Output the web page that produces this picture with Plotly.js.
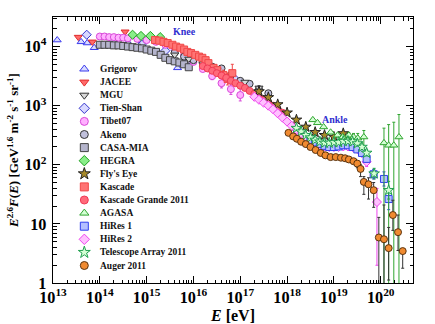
<!DOCTYPE html>
<html><head><meta charset="utf-8">
<script src="https://cdn.plot.ly/plotly-3.0.1.min.js"></script>
<style>html,body{margin:0;padding:0;background:#fff}#chart{width:435px;height:324px}</style>
</head><body><div id="chart"></div>
<script>
// All values are log10(E/eV) and log10(E^2.6 F(E))
const seriesNames = ['Grigorov','JACEE','MGU','Tien-Shan','Tibet07','Akeno','CASA-MIA','HEGRA',"Fly's Eye",'Kascade','Kascade Grande 2011','AGASA','HiRes 1','HiRes 2','Telescope Array 2011','Auger 2011'];

const grigorovLogE = [13.09,13.6,13.73,13.88,14.6,14.9,15.66];
const grigorovLogF = [4.11,4.08,4.06,3.98,4.07,4.1,3.64];

const jaceeLogE = [13.54,13.84,14.54];
const jaceeLogF = [4.16,4.08,4.25];

const mguLogE = [15.6,15.9,16.2,16.5,16.8,17.1,17.4];
const mguLogF = [3.86,3.79,3.71,3.6,3.5,3.4,3.3];

const tienShanLogE = [13.72,14.3,14.9,15.4,15.9,16.4,16.9];
const tienShanLogF = [4.2,4.1,4.03,3.93,3.78,3.6,3.44];

const tibetLogE = [14.0,14.1,14.2,14.3,14.4,14.5,14.6,14.8,15.0,15.2,15.4,15.6,15.8,16.0,16.2,16.4,16.6,16.8,17.0];
const tibetLogF = [4.17,4.17,4.16,4.16,4.15,4.15,4.14,4.13,4.11,4.08,4.03,3.95,3.85,3.74,3.62,3.5,3.38,3.28,3.18];
const tibetErr  = [0,0,0,0,0,0,0,0,0,0,0,0,0,0,0.03,0.06,0.08,0.09,0.1];

const akenoLogE = [15.6,15.8,16.0,16.2,16.4,16.6,16.8,17.0,17.2,17.4,17.6];
const akenoLogF = [3.9,3.83,3.77,3.71,3.66,3.63,3.52,3.42,3.37,3.28,3.21];

const casaLogE = [14.0,14.1,14.2,14.3,14.4,14.5,14.6,14.7,14.8,14.9,15.0,15.1,15.2,15.3,15.4,15.5,15.6,15.7,15.8,15.9];
const casaLogF = [4.03,4.03,4.03,4.02,4.02,4.01,4.0,3.99,3.98,3.97,3.95,3.93,3.91,3.86,3.81,3.77,3.75,3.73,3.7,3.65];

const hegraLogE = [14.7,14.88,15.08,15.29];
const hegraLogF = [4.2,4.18,4.18,4.16];

const flysEyeLogE = [17.4,17.6,17.8,18.0,18.2,18.4,18.6,18.8,19.0,19.2,19.4];
const flysEyeLogF = [3.24,3.14,3.02,2.88,2.76,2.64,2.55,2.5,2.47,2.53,2.42];

const kascadeLogE = [15.18,15.27,15.36,15.45,15.55,15.63,15.72,15.8,15.87,15.95,16.04,16.12,16.19,16.26,16.32,16.43,16.51,16.64,16.73,16.83];
const kascadeLogF = [4.11,4.1,4.08,4.06,4.03,4.0,3.98,3.95,3.91,3.89,3.86,3.83,3.81,3.77,3.72,3.64,3.6,3.52,3.45,3.55];
const kascadeErr  = [0,0,0,0,0,0,0,0,0,0,0,0,0,0,0,0.04,0.05,0.08,0.1,0.15];

const kgLogE = [16.2,16.3,16.4,16.5,16.6,16.7,16.8,16.9,17.0,17.1,17.2,17.3,17.4,17.5,17.6,17.7,17.8,17.9];
const kgLogF = [3.67,3.63,3.59,3.55,3.51,3.47,3.42,3.38,3.34,3.3,3.25,3.2,3.15,3.1,3.05,3.0,2.94,2.88];

const agasaLogE = [18.55,18.65,18.78,18.93,19.08,19.19,19.32,19.42,19.51,19.64,20.07,20.17,20.28,20.39];
const agasaLogF = [2.76,2.71,2.64,2.55,2.5,2.47,2.5,2.47,2.45,2.47,2.37,2.33,2.33,2.47];
const agasaLogTop = [2.78,2.73,2.66,2.57,2.53,2.5,2.54,2.53,2.53,2.58,2.62,2.68,2.72,2.85];
const agasaLogBot = [2.74,2.69,2.62,2.53,2.47,2.43,2.45,2.4,2.35,2.3,-0.5,-0.5,-0.5,-0.5];

const hires1LogE = [18.5,18.6,18.7,18.8,18.9,19.0,19.1,19.2,19.3,19.4,19.5,19.6,19.7,19.85,20.07,20.17];
const hires1LogF = [2.42,2.38,2.35,2.32,2.3,2.3,2.31,2.33,2.33,2.3,2.26,2.2,2.1,1.84,1.76,1.42];
const hires1Err  = [0,0,0,0,0,0,0,0.01,0.02,0.02,0.03,0.04,0.05,0.08,0.12,0.18];

const hires2LogE = [17.3,17.4,17.5,17.6,17.7,17.8,17.9,18.0,18.1,18.2,18.3,18.4,18.5,18.6,18.7,18.8,18.9,19.0,19.1,19.2,19.3,19.4,19.5,19.6,19.7,19.92];
const hires2LogF = [3.15,3.1,3.05,3.0,2.94,2.87,2.8,2.73,2.66,2.59,2.52,2.46,2.41,2.37,2.33,2.31,2.3,2.3,2.3,2.31,2.31,2.3,2.27,2.2,2.05,1.37];
const hires2LogTop = [3.15,3.1,3.05,3.0,2.94,2.87,2.8,2.73,2.66,2.59,2.52,2.46,2.41,2.37,2.33,2.31,2.3,2.3,2.31,2.33,2.34,2.34,2.32,2.26,2.12,1.6];
const hires2LogBot = [3.15,3.1,3.05,3.0,2.94,2.87,2.8,2.73,2.66,2.59,2.52,2.46,2.41,2.37,2.33,2.31,2.3,2.3,2.29,2.29,2.28,2.26,2.22,2.14,1.97,0.3];

const taLogE = [18.2,18.3,18.4,18.5,18.6,18.7,18.8,18.9,19.0,19.1,19.2,19.3,19.4,19.5,19.6,19.7,19.86,20.17];
const taLogF = [2.62,2.56,2.5,2.46,2.42,2.39,2.37,2.37,2.38,2.38,2.4,2.4,2.39,2.36,2.3,2.2,1.85,1.57];
const taErr  = [0,0,0,0,0,0,0,0,0.01,0.01,0.02,0.02,0.03,0.03,0.04,0.05,0.09,0.15];

const augerLogE = [18.03,18.13,18.21,18.3,18.4,18.5,18.61,18.72,18.82,18.93,19.04,19.15,19.24,19.32,19.42,19.5,19.57,19.64,19.74,19.85,19.96,20.07,20.17,20.26,20.37,20.47];
const augerLogF = [2.54,2.48,2.44,2.39,2.35,2.3,2.25,2.2,2.16,2.13,2.13,2.12,2.11,2.09,2.06,2.02,1.93,1.71,1.67,1.57,0.77,0.74,0.59,1.15,0.86,0.54];
const augerLogTop = [2.55,2.49,2.45,2.4,2.36,2.31,2.26,2.21,2.17,2.14,2.14,2.14,2.13,2.12,2.1,2.07,2.0,1.8,1.78,1.7,1.11,1.32,0.94,1.4,1.15,0.54];
const augerLogBot = [2.53,2.47,2.43,2.38,2.34,2.29,2.24,2.19,2.15,2.12,2.12,2.1,2.09,2.06,2.02,1.95,1.8,1.5,1.42,1.28,-0.5,-0.5,0.05,0.89,0.55,0.25];

const knee = {logE: 15.8, logF: 4.25, text: 'Knee'};
const ankle = {logE: 19.02, logF: 2.77, text: 'Ankle'};

const styles = [
  {symbol:'triangle-up',   fill:'rgba(190,195,255,0.6)', line:'#3a3aee'},
  {symbol:'triangle-down', fill:'#ff6a6a', line:'#e02a2a'},
  {symbol:'triangle-down', fill:'#d8d8d8', line:'#333333'},
  {symbol:'diamond',       fill:'#d8d8ff', line:'#3535cc'},
  {symbol:'circle',        fill:'#ffb0ff', line:'#d848d8'},
  {symbol:'circle',        fill:'#c0c0dc', line:'#333333'},
  {symbol:'square',        fill:'#b4b4cc', line:'#444444'},
  {symbol:'diamond',       fill:'#88ee88', line:'#20a020'},
  {symbol:'star',          fill:'#a88a28', line:'#222222'},
  {symbol:'square',        fill:'#ff7474', line:'#f04848'},
  {symbol:'circle',        fill:'#ff6a7a', line:'#f03a55'},
  {symbol:'triangle-up',   fill:'#d4ffd4', line:'#30a530'},
  {symbol:'square',        fill:'#b4c0ff', line:'#3040ee'},
  {symbol:'diamond',       fill:'#ffc0ff', line:'#ee44ee'},
  {symbol:'star',          fill:'#d4ffd4', line:'#20a050'},
  {symbol:'circle',        fill:'#f08a30', line:'#5a3410'}
];
const errColors = ['#3a3aee','#e02a2a','#333','#3535cc','#d848d8','#333','#444','#20a020','#222','#f04848','#f03a55','#30a530','#3040ee','#ee44ee','#20a050','#333'];

const pw = v => Math.pow(10, v);
function symErr(F, e){ return F.map((f,i)=> pw(f+e[i]) - pw(f)); }
function symErrM(F, e){ return F.map((f,i)=> pw(f) - pw(f-e[i])); }
function topErr(F, t){ return F.map((f,i)=> pw(t[i]) - pw(f)); }
function botErr(F, b){ return F.map((f,i)=> pw(f) - pw(b[i])); }

const data = [
  {E:grigorovLogE, F:grigorovLogF},
  {E:jaceeLogE, F:jaceeLogF},
  {E:mguLogE, F:mguLogF},
  {E:tienShanLogE, F:tienShanLogF},
  {E:tibetLogE, F:tibetLogF, up:symErr(tibetLogF,tibetErr), dn:symErrM(tibetLogF,tibetErr)},
  {E:akenoLogE, F:akenoLogF},
  {E:casaLogE, F:casaLogF},
  {E:hegraLogE, F:hegraLogF},
  {E:flysEyeLogE, F:flysEyeLogF},
  {E:kascadeLogE, F:kascadeLogF, up:symErr(kascadeLogF,kascadeErr), dn:symErrM(kascadeLogF,kascadeErr)},
  {E:kgLogE, F:kgLogF},
  {E:agasaLogE, F:agasaLogF, up:topErr(agasaLogF,agasaLogTop), dn:botErr(agasaLogF,agasaLogBot)},
  {E:hires1LogE, F:hires1LogF, up:symErr(hires1LogF,hires1Err), dn:symErrM(hires1LogF,hires1Err)},
  {E:hires2LogE, F:hires2LogF, up:topErr(hires2LogF,hires2LogTop), dn:botErr(hires2LogF,hires2LogBot)},
  {E:taLogE, F:taLogF, up:symErr(taLogF,taErr), dn:symErrM(taLogF,taErr)},
  {E:augerLogE, F:augerLogF, up:topErr(augerLogF,augerLogTop), dn:botErr(augerLogF,augerLogBot)}
];

const drawOrder = [0,1,3,6,4,5,2,7,9,10,8,13,12,11,14,15];
const traces = [];
drawOrder.forEach(i => {
  const d = data[i], s = styles[i];
  const t = {
    type:'scatter', mode:'markers', name:seriesNames[i], showlegend:false,
    x: d.E.map(pw), y: d.F.map(pw), cliponaxis:false,
    marker:{symbol:s.symbol, size: (s.symbol==='star'?8:7), color:s.fill, line:{color:s.line, width:1}}
  };
  if (d.up) {
    t.error_y = {type:'data', symmetric:false, array:d.up, arrayminus:d.dn, color:errColors[i], thickness:1, width:1.5};
  }
  traces.push(t);
});

// custom legend (markers on a hidden paper-like axis pair)
const legX = 0.087, legTextX = 0.125, legTop = 69, legStep = 13.1;
const plotTop = 17, plotH = 266;
const legY = seriesNames.map((n,i) => 1 - (legTop + i*legStep - plotTop)/plotH);
seriesNames.forEach((n,i) => {
  const s = styles[i];
  traces.push({type:'scatter', mode:'markers', xaxis:'x2', yaxis:'y2', showlegend:false, hoverinfo:'skip',
    x:[legX], y:[legY[i]], cliponaxis:false,
    marker:{symbol:s.symbol, size:(s.symbol==='star'?9:8), color:s.fill, line:{color:s.line, width:1}}});
});

const serif = 'Liberation Serif, Times New Roman, serif';
const annotations = seriesNames.map((n,i) => ({
  xref:'paper', yref:'paper', x:legTextX, y:legY[i], xanchor:'left', yanchor:'middle',
  text:'<b>'+n+'</b>', showarrow:false, font:{family:serif, size:9.5, color:'#111'}
}));
[knee, ankle].forEach(a => annotations.push({
  x:a.logE, y:a.logF, xref:'x', yref:'y', text:'<b>'+a.text+'</b>', showarrow:false,
  font:{family:serif, size:10, color:'#3030d0'}
}));

const axisCommon = {
  type:'log', dtick:1, exponentformat:'power', showgrid:false, zeroline:false,
  showline:true, linecolor:'#000', linewidth:1, mirror:'ticks',
  ticks:'inside', ticklen:7, tickcolor:'#000', tickwidth:1,
  minor:{ticks:'inside', ticklen:3.5, tickcolor:'#000', dtick:'D1', showgrid:false},
  tickfont:{family:serif, size:13, color:'#000', weight:'bold'}
};

const layout = {
  width:435, height:324, paper_bgcolor:'#fff', plot_bgcolor:'#fff',
  margin:{l:53, r:22, t:17, b:41},
  showlegend:false,
  xaxis: Object.assign({}, axisCommon, {range:[13, 20.69],
    title:{text:'<b><i>E</i> [eV]</b>', font:{family:serif, size:16, color:'#000'}, standoff:5}}),
  yaxis: Object.assign({}, axisCommon, {range:[0, 4.5], ticklabelstandoff:3,
    title:{text:'<b><i>E</i><sup>2.6</sup><i>F</i>(<i>E</i>) [GeV<sup>1.6</sup> m<sup>-2</sup> s<sup>-1</sup> sr<sup>-1</sup>]</b>', font:{family:serif, size:13, color:'#000'}, standoff:2}}),
  xaxis2:{overlaying:'x', range:[0,1], visible:false, fixedrange:true},
  yaxis2:{overlaying:'y', range:[0,1], visible:false, fixedrange:true},
  annotations: annotations
};

Plotly.newPlot('chart', traces, layout, {staticPlot:true, displayModeBar:false});
</script>
</body></html>
